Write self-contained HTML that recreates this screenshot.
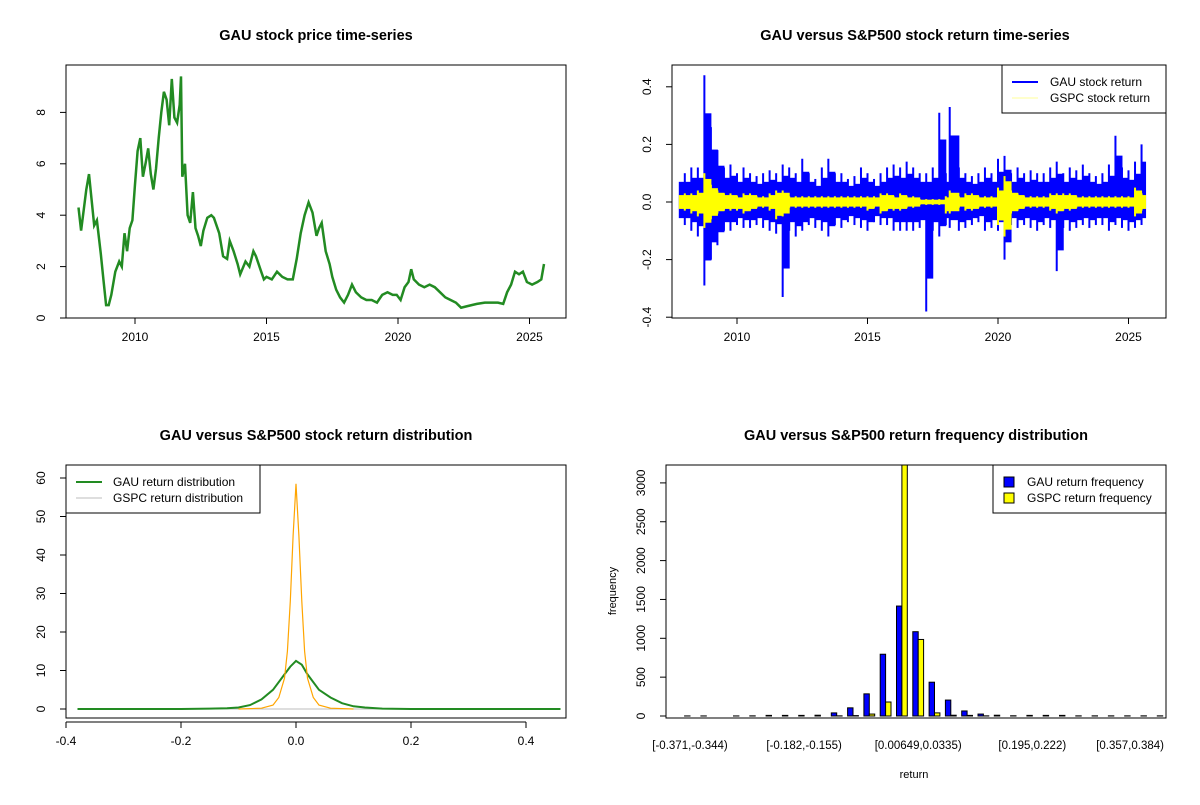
<!DOCTYPE html>
<html><head><meta charset="utf-8"><style>
body{margin:0;background:#fff;width:1200px;height:800px;overflow:hidden}
svg{font-family:"Liberation Sans",Arial,sans-serif}
</style></head><body>
<svg id="s" width="1200" height="800" xmlns="http://www.w3.org/2000/svg"></svg>
<script>
// ---- Panel 1 data: GAU price
const priceYears=[2007.85,2007.95,2008.05,2008.15,2008.25,2008.35,2008.45,2008.55,2008.7,2008.8,2008.9,2009.0,2009.1,2009.25,2009.4,2009.5,2009.6,2009.7,2009.8,2009.9,2010.0,2010.1,2010.2,2010.3,2010.4,2010.5,2010.6,2010.7,2010.8,2010.9,2011.0,2011.1,2011.2,2011.3,2011.4,2011.5,2011.6,2011.7,2011.75,2011.8,2011.9,2012.0,2012.1,2012.2,2012.3,2012.4,2012.5,2012.6,2012.75,2012.9,2013.0,2013.2,2013.35,2013.5,2013.6,2013.75,2013.9,2014.0,2014.2,2014.35,2014.5,2014.6,2014.8,2014.9,2015.0,2015.2,2015.4,2015.6,2015.8,2016.0,2016.15,2016.3,2016.45,2016.6,2016.75,2016.9,2017.0,2017.1,2017.25,2017.4,2017.5,2017.65,2017.8,2017.95,2018.1,2018.25,2018.4,2018.6,2018.8,2019.0,2019.2,2019.4,2019.6,2019.8,2019.95,2020.1,2020.25,2020.4,2020.5,2020.6,2020.8,2021.0,2021.2,2021.4,2021.6,2021.8,2022.0,2022.2,2022.4,2022.6,2022.8,2023.0,2023.3,2023.6,2023.8,2024.0,2024.15,2024.3,2024.45,2024.6,2024.75,2024.9,2025.1,2025.3,2025.45,2025.55];
const priceValues=[4.3,3.4,4.2,5.0,5.6,4.6,3.6,3.8,2.5,1.5,0.5,0.5,0.9,1.8,2.2,2.0,3.3,2.6,3.5,3.8,5.2,6.5,7.0,5.5,6.0,6.6,5.6,5.0,5.8,7.0,8.0,8.8,8.5,7.5,9.3,7.8,7.6,8.3,9.4,5.5,6.0,4.0,3.7,4.9,3.5,3.2,2.8,3.4,3.9,4.0,3.9,3.3,2.4,2.3,3.0,2.6,2.1,1.7,2.2,2.0,2.6,2.4,1.8,1.5,1.6,1.5,1.8,1.6,1.5,1.5,2.3,3.3,4.0,4.5,4.1,3.2,3.5,3.7,2.6,2.1,1.6,1.1,0.8,0.6,0.9,1.3,1.0,0.8,0.7,0.7,0.6,0.9,1.0,0.9,0.9,0.7,1.2,1.4,1.9,1.5,1.3,1.2,1.3,1.2,1.0,0.8,0.7,0.6,0.4,0.45,0.5,0.55,0.6,0.6,0.6,0.55,1.0,1.3,1.8,1.7,1.8,1.4,1.3,1.4,1.5,2.1];
const priceTicks=[0,2,4,6,8];
const yearTicks=[2010,2015,2020,2025];
// ---- Panel 2 data: return envelopes
const retYears=[2008.0,2008.25,2008.5,2008.75,2009.0,2009.25,2009.5,2009.75,2010,2010.25,2010.5,2010.75,2011,2011.25,2011.5,2011.75,2012,2012.25,2012.5,2012.75,2013,2013.25,2013.5,2013.75,2014,2014.25,2014.5,2014.75,2015,2015.25,2015.5,2015.75,2016,2016.25,2016.5,2016.75,2017,2017.25,2017.5,2017.75,2018,2018.15,2018.5,2018.75,2019,2019.25,2019.5,2019.75,2020,2020.25,2020.5,2020.75,2021,2021.25,2021.5,2021.75,2022,2022.25,2022.5,2022.75,2023,2023.25,2023.5,2023.75,2024,2024.25,2024.5,2024.75,2025,2025.25,2025.5];
const gauHigh=[0.10,0.12,0.12,0.44,0.26,0.18,0.12,0.13,0.10,0.12,0.10,0.09,0.10,0.11,0.10,0.13,0.12,0.10,0.15,0.10,0.08,0.12,0.15,0.10,0.10,0.08,0.09,0.12,0.10,0.08,0.10,0.12,0.13,0.12,0.14,0.12,0.10,0.10,0.12,0.31,0.10,0.33,0.12,0.10,0.09,0.10,0.12,0.10,0.15,0.16,0.10,0.12,0.10,0.11,0.10,0.10,0.12,0.14,0.10,0.12,0.11,0.13,0.10,0.09,0.10,0.13,0.23,0.12,0.11,0.14,0.20];
const gauLow=[-0.08,-0.10,-0.12,-0.29,-0.20,-0.15,-0.10,-0.10,-0.08,-0.09,-0.09,-0.08,-0.09,-0.10,-0.11,-0.33,-0.10,-0.12,-0.10,-0.08,-0.09,-0.10,-0.12,-0.08,-0.09,-0.07,-0.08,-0.09,-0.10,-0.07,-0.08,-0.08,-0.10,-0.10,-0.10,-0.10,-0.09,-0.38,-0.10,-0.12,-0.08,-0.09,-0.10,-0.09,-0.08,-0.07,-0.10,-0.09,-0.10,-0.20,-0.08,-0.09,-0.08,-0.09,-0.10,-0.08,-0.09,-0.24,-0.09,-0.10,-0.09,-0.08,-0.09,-0.08,-0.08,-0.10,-0.08,-0.09,-0.10,-0.09,-0.08];
const spHigh=[0.03,0.03,0.04,0.10,0.06,0.04,0.03,0.03,0.02,0.03,0.03,0.02,0.02,0.03,0.04,0.04,0.02,0.02,0.02,0.02,0.02,0.02,0.02,0.02,0.02,0.02,0.02,0.02,0.02,0.02,0.03,0.03,0.02,0.03,0.02,0.02,0.01,0.01,0.01,0.01,0.02,0.04,0.02,0.03,0.03,0.02,0.02,0.02,0.05,0.09,0.04,0.03,0.02,0.02,0.02,0.02,0.03,0.03,0.03,0.03,0.02,0.02,0.02,0.02,0.02,0.02,0.02,0.02,0.02,0.05,0.03];
const spLow=[-0.03,-0.04,-0.05,-0.09,-0.06,-0.04,-0.03,-0.03,-0.03,-0.04,-0.03,-0.02,-0.02,-0.03,-0.06,-0.05,-0.02,-0.02,-0.02,-0.02,-0.02,-0.02,-0.02,-0.02,-0.02,-0.02,-0.02,-0.02,-0.03,-0.02,-0.04,-0.03,-0.03,-0.03,-0.02,-0.02,-0.01,-0.01,-0.01,-0.01,-0.04,-0.04,-0.02,-0.03,-0.03,-0.02,-0.02,-0.02,-0.08,-0.12,-0.04,-0.03,-0.02,-0.02,-0.02,-0.02,-0.03,-0.04,-0.03,-0.03,-0.02,-0.02,-0.02,-0.02,-0.02,-0.02,-0.02,-0.02,-0.02,-0.05,-0.03];
const retTicks=[-0.4,-0.2,0.0,0.2,0.4];
// ---- Panel 3 data: densities
const gauDensX=[-0.38,-0.2,-0.15,-0.12,-0.1,-0.08,-0.06,-0.04,-0.02,-0.01,0,0.01,0.02,0.04,0.06,0.08,0.1,0.12,0.15,0.2,0.3,0.46];
const gauDensY=[0,0,0.1,0.2,0.4,1,2.5,5,9,11,12.5,11.5,9,5,3,1.5,0.7,0.4,0.1,0,0,0];
const spDensX=[-0.1,-0.06,-0.04,-0.03,-0.02,-0.015,-0.01,-0.005,0,0.005,0.01,0.015,0.02,0.03,0.04,0.06,0.1];
const spDensY=[0,0.2,1,3,8,15,28,45,58.5,45,28,15,8,3,1,0.2,0];
const densXTicks=[-0.4,-0.2,0,0.2,0.4];
const densYTicks=[0,10,20,30,40,50,60];
// ---- Panel 4 data: histogram
const binLabels=["[-0.371,-0.344)","[-0.182,-0.155)","[0.00649,0.0335)","[0.195,0.222)","[0.357,0.384)"];
const binLabelIdx=[0,7,14,21,27];
const gauFreq=[1,1,0,1,2,8,8,8,10,40,105,285,795,1415,1085,435,205,65,25,10,3,8,8,8,2,2,2,2,2,2];
const spFreq=[0,0,0,0,0,0,0,0,0,2,5,25,180,3400,985,40,10,8,2,0,0,0,0,0,0,0,0,0,0,0];
const freqTicks=[0,500,1000,1500,2000,2500,3000];

const S=document.getElementById('s');const NS='http://www.w3.org/2000/svg';
function mk(tag,attrs,name,parent){const e=document.createElementNS(NS,tag);for(const k in attrs)e.setAttribute(k,attrs[k]);


(parent||S).appendChild(e);return e;}
function txt(x,y,t,name,extra){const e=mk('text',Object.assign({x:x,y:y,'font-size':12,'text-anchor':'middle',fill:'#000'},extra||{}),name);e.textContent=t;return e;}
function box(x0,y0,x1,y1,name){mk('rect',{x:x0,y:y0,width:x1-x0,height:y1-y0,fill:'none',stroke:'#000'},name);}
function yAxis(x,ticks,fy,fmt,name){const y0=fy(ticks[0]),y1=fy(ticks[ticks.length-1]);
mk('line',{x1:x,x2:x,y1:y0,y2:y1,stroke:'#000'},name+'-line');
ticks.forEach(t=>{const y=fy(t);mk('line',{x1:x-6,x2:x,y1:y,y2:y,stroke:'#000'},name+'-tick');
txt(x-21,y,fmt(t),name+'-label',{transform:`rotate(-90 ${x-21} ${y})`});});}
function xAxis(y,ticks,fx,fmt,name,noLine){const x0=fx(ticks[0]),x1=fx(ticks[ticks.length-1]);
if(!noLine)mk('line',{x1:x0,x2:x1,y1:y,y2:y,stroke:'#000'},name+'-line');
ticks.forEach(t=>{const x=fx(t);mk('line',{x1:x,x2:x,y1:y,y2:y+6,stroke:'#000'},name+'-tick');txt(x,y+23,fmt(t),name+'-label');});}
function poly(pts,attrs,name){return mk('polyline',Object.assign({points:pts.map(p=>p[0].toFixed(1)+','+p[1].toFixed(1)).join(' '),fill:'none'},attrs),name);}
const title=(x,t,y,name)=>txt(x,y,t,name,{'font-weight':'bold','font-size':14.5});

// Panel 1
{const fx=v=>135+(v-2010)*26.3, fy=v=>318-25.7*v;
box(66,65,566,318,'price-plot-frame');title(316,'GAU stock price time-series',40,'price-chart-title');
yAxis(66,priceTicks,fy,String,'price-y-axis');xAxis(318,yearTicks,fx,String,'price-x-axis',true);
poly(priceYears.map((y,i)=>[fx(y),fy(priceValues[i])]),{stroke:'#228B22','stroke-width':2.5},'gau-price-line');}

// Panel 2
{const fx=v=>737+(v-2010)*26.1, fy=v=>202-288*v;
box(672,65,1166,318,'return-plot-frame');title(915,'GAU versus S&P500 stock return time-series',40,'return-chart-title');
yAxis(672,retTicks,fy,v=>v.toFixed(1),'return-y-axis');xAxis(318,yearTicks,fx,String,'return-x-axis',true);
function band(hi,lo,col,name,k){
retYears.forEach((y,i)=>{const x0=fx(y)-(i===0?6:0);const x1=i<retYears.length-1?fx(retYears[i+1]):fx(y)+4;
const t=fy(hi[i]*k),b=fy(lo[i]*k);
mk('rect',{x:x0,y:t,width:x1-x0+0.5,height:b-t,fill:col},name+'-band');
mk('line',{x1:fx(y),x2:fx(y),y1:fy(hi[i]),y2:fy(lo[i]),stroke:col,'stroke-width':2},name+'-spike');});}
band(gauHigh,gauLow,'#0000FF','gau-return',0.7);
band(spHigh,spLow,'#FFFF00','gspc-return',0.8);
box(1002,65,1166,113,'return-legend');
mk('line',{x1:1012,x2:1038,y1:82,y2:82,stroke:'#0000FF','stroke-width':2},'legend-gau-return-swatch');
mk('line',{x1:1012,x2:1038,y1:98,y2:98,stroke:'#FFFF99','stroke-width':1},'legend-gspc-return-swatch');
txt(1050,86,'GAU stock return','legend-gau-return',{'text-anchor':'start'});
txt(1050,102,'GSPC stock return','legend-gspc-return',{'text-anchor':'start'});}

// Panel 3
{const fx=v=>296+v*575, fy=v=>709-3.85*v;
box(66,465,566,718,'density-plot-frame');title(316,'GAU versus S&P500 stock return distribution',440,'density-chart-title');
yAxis(66,densYTicks,fy,String,'density-y-axis');xAxis(722,densXTicks,fx,v=>v===0?'0.0':v.toFixed(1),'density-x-axis');
mk('line',{x1:fx(-0.38),x2:fx(0.46),y1:fy(0),y2:fy(0),stroke:'#BEBEBE'},'density-baseline');
poly(gauDensX.map((x,i)=>[fx(x),fy(gauDensY[i])]),{stroke:'#228B22','stroke-width':2},'gau-density-curve');
poly(spDensX.map((x,i)=>[fx(x),fy(spDensY[i])]),{stroke:'#FFA500','stroke-width':1.2},'gspc-density-curve');
box(66,465,260,513,'density-legend');
mk('line',{x1:76,x2:102,y1:482,y2:482,stroke:'#228B22','stroke-width':2},'legend-gau-density-swatch');
mk('line',{x1:76,x2:102,y1:498,y2:498,stroke:'#BEBEBE'},'legend-gspc-density-swatch');
txt(113,486,'GAU return distribution','legend-gau-density',{'text-anchor':'start'});
txt(113,502,'GSPC return distribution','legend-gspc-density',{'text-anchor':'start'});}

// Panel 4
{const gx=i=>690+i*16.3, fy=v=>716-0.0777*v, bw=5.4;
const cp=mk('clipPath',{id:'c4'},'hist-clip');mk('rect',{x:666,y:465,width:500,height:253},'hist-clip-rect',cp);
title(916,'GAU versus S&P500 return frequency distribution',440,'histogram-chart-title');
yAxis(666,freqTicks,fy,String,'frequency-y-axis');
txt(616,591,'frequency','frequency-y-title',{'font-size':11,transform:'rotate(-90 616 591)'});
txt(914,778,'return','return-x-title',{'font-size':11});
gauFreq.forEach((v,i)=>{const r=mk('rect',{x:gx(i)-bw,y:fy(v),width:bw,height:fy(0)-fy(v),fill:'#0000FF',stroke:'#000','stroke-width':1},'gau-bar-'+i);r.setAttribute('clip-path','url(#c4)');});
spFreq.forEach((v,i)=>{const r=mk('rect',{x:gx(i),y:fy(v),width:bw,height:fy(0)-fy(v),fill:'#FFFF00',stroke:'#000','stroke-width':1},'gspc-bar-'+i);r.setAttribute('clip-path','url(#c4)');});
binLabelIdx.forEach((b,k)=>txt(gx(b),749,binLabels[k],'bin-label',{'font-size':11.5}));
box(666,465,1166,718,'histogram-plot-frame');
box(993,465,1166,513,'histogram-legend');
mk('rect',{x:1004,y:477,width:10,height:10,fill:'#0000FF',stroke:'#000'},'legend-gau-freq-swatch');
mk('rect',{x:1004,y:493,width:10,height:10,fill:'#FFFF00',stroke:'#000'},'legend-gspc-freq-swatch');
txt(1027,486,'GAU return frequency','legend-gau-freq',{'text-anchor':'start'});
txt(1027,502,'GSPC return frequency','legend-gspc-freq',{'text-anchor':'start'});}
</script>
</body></html>
